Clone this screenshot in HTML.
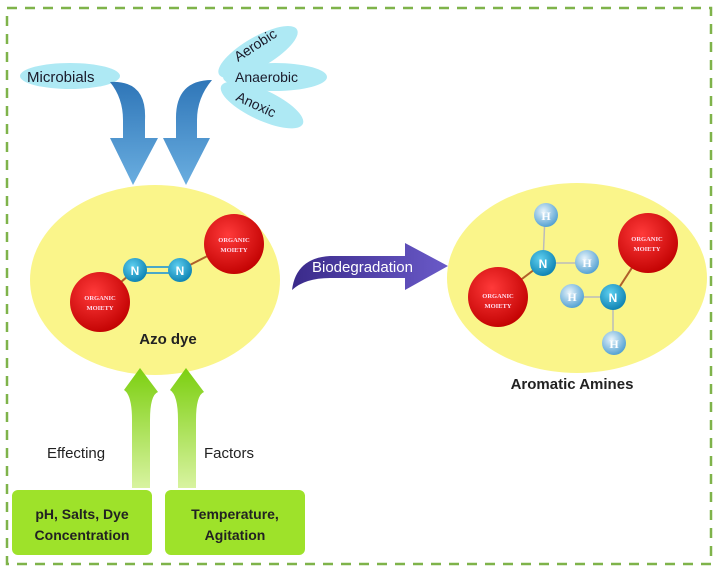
<!DOCTYPE html>
<html><head><meta charset="utf-8"><style>body{margin:0;background:#fff}svg{display:block;font-family:"Liberation Sans",sans-serif}</style></head><body>
<svg width="720" height="571" viewBox="0 0 720 571">
<defs>
<radialGradient id="red" cx="40%" cy="35%" r="70%"><stop offset="0" stop-color="#ff3a3a"/><stop offset="1" stop-color="#c00000"/></radialGradient>
<radialGradient id="nb" cx="40%" cy="35%" r="70%"><stop offset="0" stop-color="#5fd0f0"/><stop offset="1" stop-color="#0a7fb0"/></radialGradient>
<radialGradient id="hb" cx="40%" cy="35%" r="70%"><stop offset="0" stop-color="#e8f4fb"/><stop offset="1" stop-color="#4a9cd0"/></radialGradient>
<linearGradient id="ba" x1="0" y1="0" x2="0" y2="1"><stop offset="0" stop-color="#2f76b8"/><stop offset="1" stop-color="#6aaee0"/></linearGradient>
<linearGradient id="ga" x1="0" y1="1" x2="0" y2="0"><stop offset="0" stop-color="#d8f3a0"/><stop offset="1" stop-color="#7ccf10"/></linearGradient>
<linearGradient id="pa" x1="0" y1="0" x2="1" y2="0"><stop offset="0" stop-color="#3a2a8a"/><stop offset="1" stop-color="#6a5ac8"/></linearGradient>
</defs>
<rect x="7" y="8" width="704" height="556" fill="none" stroke="#7fb34a" stroke-width="2.5" stroke-dasharray="10,8"/>
<ellipse cx="70" cy="76" rx="50" ry="13" fill="#aee9f4"/>
<ellipse cx="258" cy="52" rx="45" ry="15" fill="#aee9f4" transform="rotate(-30 258 52)"/>
<ellipse cx="275" cy="77" rx="52" ry="14" fill="#aee9f4"/>
<ellipse cx="262" cy="105" rx="45" ry="15" fill="#aee9f4" transform="rotate(25 262 105)"/>
<text x="27" y="82" font-size="15" fill="#1a1a2a">Microbials</text>
<text x="0" y="0" font-size="14" fill="#1a1a2a" transform="translate(238 62) rotate(-33)">Aerobic</text>
<text x="235" y="82" font-size="14" fill="#1a1a2a">Anaerobic</text>
<text x="0" y="0" font-size="14" fill="#1a1a2a" transform="translate(235 100) rotate(25)">Anoxic</text>
<path d="M110 82 Q147 80 145 120 L145 138 L158 138 L133 185 L110 138 L123 138 L123 120 Q123 98 110 82Z" fill="url(#ba)"/>
<path d="M212 80 Q175 80 176 120 L176 138 L163 138 L186 185 L210 138 L197 138 L197 120 Q197 98 212 80Z" fill="url(#ba)"/>
<ellipse cx="155" cy="280" rx="125" ry="95" fill="#faf58a"/>
<ellipse cx="577" cy="278" rx="130" ry="95" fill="#faf58a"/>
<line x1="100" y1="300" x2="135" y2="270" stroke="#b0602a" stroke-width="2"/>
<line x1="180" y1="270" x2="233" y2="243" stroke="#b0602a" stroke-width="2"/>
<line x1="140" y1="267" x2="175" y2="267" stroke="#4aa8c8" stroke-width="2"/>
<line x1="140" y1="273" x2="175" y2="273" stroke="#4aa8c8" stroke-width="2"/>
<circle cx="100" cy="302" r="30" fill="url(#red)"/>
<circle cx="234" cy="244" r="30" fill="url(#red)"/>
<circle cx="135" cy="270" r="12" fill="url(#nb)"/>
<circle cx="180" cy="270" r="12" fill="url(#nb)"/>
<text x="168" y="344" font-size="15" font-weight="bold" text-anchor="middle" fill="#222">Azo dye</text>
<path d="M292 290 Q296 258 330 256 L405 256 L405 243 L448 266 L405 290 L405 278 L330 278 Q305 278 292 290Z" fill="url(#pa)"/>
<text x="312" y="272" font-size="15" fill="#fff">Biodegradation</text>
<g stroke="#b0602a" stroke-width="2"><line x1="498" y1="297" x2="543" y2="263"/><line x1="613" y1="297" x2="648" y2="243"/></g>
<g stroke="#bbb" stroke-width="1.5"><line x1="545" y1="215" x2="543" y2="263"/><line x1="543" y1="263" x2="587" y2="263"/><line x1="572" y1="297" x2="613" y2="297"/><line x1="613" y1="297" x2="613" y2="343"/></g>
<circle cx="498" cy="297" r="30" fill="url(#red)"/>
<circle cx="648" cy="243" r="30" fill="url(#red)"/>
<circle cx="543" cy="263" r="13" fill="url(#nb)"/>
<circle cx="613" cy="297" r="13" fill="url(#nb)"/>
<g fill="url(#hb)"><circle cx="546" cy="215" r="12"/><circle cx="587" cy="262" r="12"/><circle cx="572" cy="296" r="12"/><circle cx="614" cy="343" r="12"/></g>
<g fill="#fff" font-size="12" font-weight="bold" text-anchor="middle">
<text x="135" y="275">N</text><text x="180" y="275">N</text>
<text x="543" y="268">N</text><text x="613" y="302">N</text></g>
<g fill="#fde" font-size="6.5" font-family="Liberation Serif" font-weight="bold" text-anchor="middle">
<text x="100" y="300">ORGANIC</text><text x="100" y="310">MOIETY</text>
<text x="234" y="242">ORGANIC</text><text x="234" y="252">MOIETY</text>
<text x="498" y="298">ORGANIC</text><text x="498" y="308">MOIETY</text>
<text x="647" y="241">ORGANIC</text><text x="647" y="251">MOIETY</text></g>
<g fill="#fff" font-size="12" font-family="Liberation Serif" font-weight="bold" text-anchor="middle">
<text x="546" y="220">H</text><text x="587" y="267">H</text><text x="572" y="301">H</text><text x="614" y="348">H</text></g>
<text x="572" y="389" font-size="15" font-weight="bold" text-anchor="middle" fill="#222">Aromatic Amines</text>
<path d="M132 488 L132 420 Q132 395 124 390 L140 368 L158 392 Q150 395 150 420 L150 488Z" fill="url(#ga)"/>
<path d="M178 488 L178 420 Q178 395 170 390 L186 368 L204 392 Q196 395 196 420 L196 488Z" fill="url(#ga)"/>
<text x="47" y="458" font-size="15" fill="#222">Effecting</text>
<text x="204" y="458" font-size="15" fill="#222">Factors</text>
<rect x="12" y="490" width="140" height="65" rx="6" fill="#9ee22a"/>
<rect x="165" y="490" width="140" height="65" rx="6" fill="#9ee22a"/>
<g font-size="14" font-weight="bold" fill="#222" text-anchor="middle">
<text x="82" y="519">pH, Salts, Dye</text><text x="82" y="540">Concentration</text>
<text x="235" y="519">Temperature,</text><text x="235" y="540">Agitation</text></g>
</svg>
</body></html>
